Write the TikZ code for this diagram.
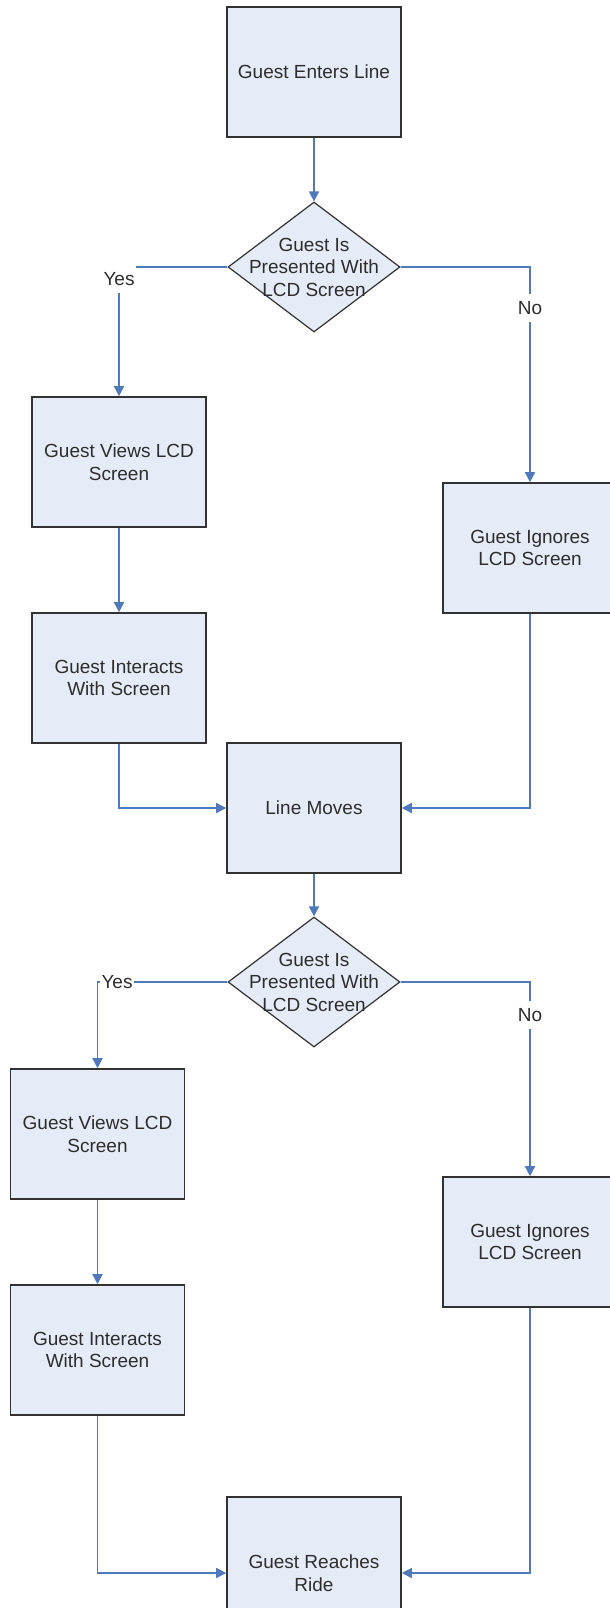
\documentclass[tikz,border=0pt]{standalone}
\usepackage{fontspec}
\setmainfont{Liberation Sans}
\usetikzlibrary{shapes.geometric,arrows.meta}
\definecolor{boxfill}{RGB}{229,236,247}
\definecolor{boxline}{RGB}{50,50,50}
\definecolor{connblue}{RGB}{79,121,186}
\definecolor{txt}{RGB}{45,45,45}
\begin{document}
\begin{tikzpicture}[x=1pt,y=-1pt,
  every node/.style={font=\fontsize{19}{22.5}\selectfont, text=txt},
  procbox/.style={draw=boxline, line width=1.6pt, fill=boxfill, minimum width=174pt, minimum height=130pt, inner sep=0pt, align=center},
  decbox/.style={diamond, draw=boxline, line width=1.2pt, fill=boxfill, minimum width=172pt, minimum height=130pt, inner sep=0pt},
  dectext/.style={align=center, inner sep=0pt},
  arrowline/.style={draw=connblue, line width=1.5pt, -{Triangle[length=10pt,width=10pt]}},
  lbl/.style={fill=white, inner sep=1.5pt, minimum height=28pt}
]
\useasboundingbox (0,0) rectangle (610,1608);
\fill[white] (0,0) rectangle (610,1608);
\clip (0,0) rectangle (610,1608);

% nodes
\node[procbox] (b1) at (314,72) {Guest Enters Line};
\node[decbox] (d1) at (314,267) {};
\node[dectext] (d1t) at (d1.center) {Guest Is\\Presented With\\LCD Screen};
\node[procbox] (v1) at (119,462) {Guest Views LCD\\Screen};
\node[procbox] (a1) at (119,678) {Guest Interacts\\With Screen};
\node[procbox] (i1) at (530,548) {Guest Ignores\\LCD Screen};
\node[procbox] (lm) at (314,808) {Line Moves};
\node[decbox] (d2) at (314,982) {};
\node[dectext] (d2t) at (d2.center) {Guest Is\\Presented With\\LCD Screen};
\node[procbox] (v2) at (97.5,1134) {Guest Views LCD\\Screen};
\node[procbox] (a2) at (97.5,1350) {Guest Interacts\\With Screen};
\node[procbox] (i2) at (530,1242) {Guest Ignores\\LCD Screen};
\node[procbox, minimum height=152pt] (rr) at (314,1573) {Guest Reaches\\Ride};

% connectors
\draw[arrowline] (b1) -- (d1);
\draw[arrowline] (d1.west) -| (v1.north);
\draw[arrowline] (d1.east) -| (i1.north);
\draw[arrowline] (v1) -- (a1);
\draw[arrowline] (a1.south) |- (lm.west);
\draw[arrowline] (i1.south) |- (lm.east);
\draw[arrowline] (lm) -- (d2);
\draw[arrowline] (d2.west) -| (v2.north);
\draw[arrowline] (d2.east) -| (i2.north);
\draw[arrowline] (v2) -- (a2);
\draw[arrowline] (a2.south) |- (rr.west);
\draw[arrowline] (i2.south) |- (rr.east);

% labels
\node[lbl] (yes1) at (119,279) {Yes};
\node[lbl] (no1) at (530,308) {No};
\node[lbl] (yes2) at (117,982) {Yes};
\node[lbl] (no2) at (530,1015) {No};
\end{tikzpicture}
\end{document}
